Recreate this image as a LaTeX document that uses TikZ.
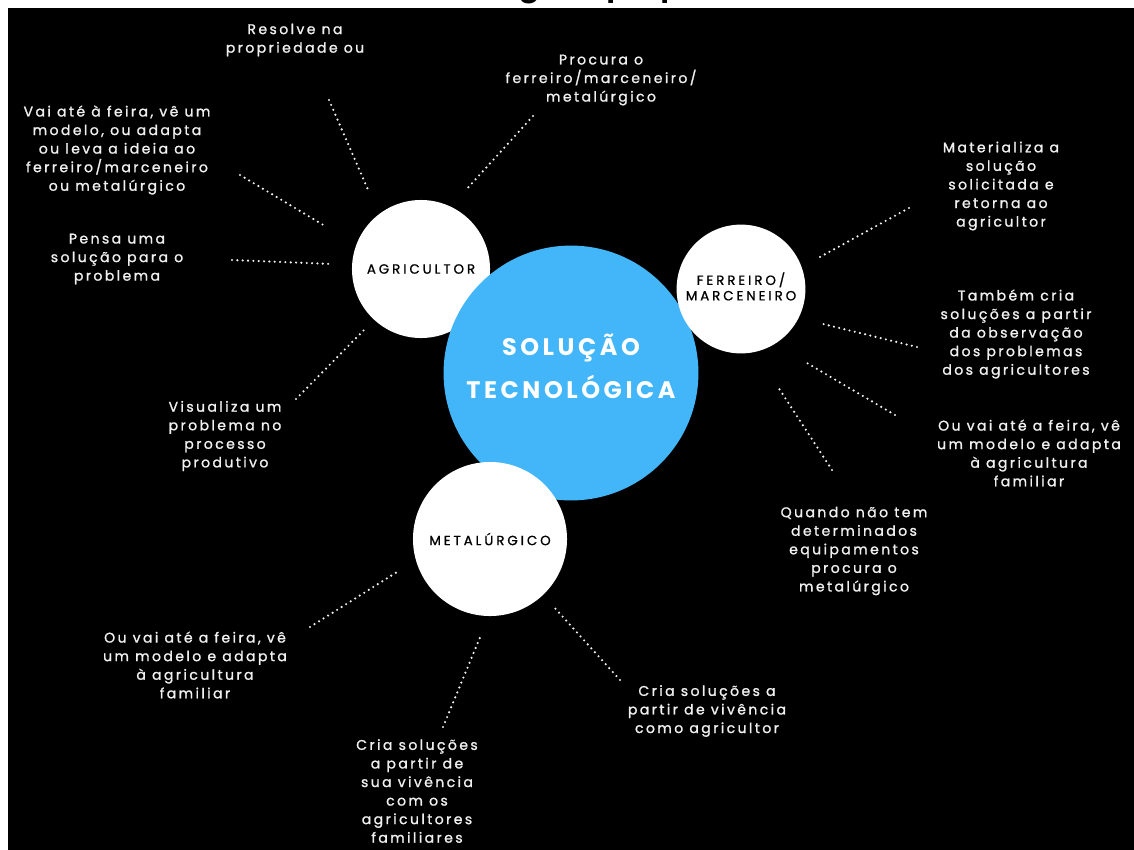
\documentclass[tikz,border=0pt]{standalone}
\usepackage{fontspec}
\usepackage{xcolor}
\usepackage{tikz}
\usetikzlibrary{positioning}
\setmainfont{Poppins}
\newfontfamily\notefont[LetterSpace=17,FakeBold=1.2]{Poppins}
\newfontfamily\actorfont[LetterSpace=22,FakeBold=1.0]{Poppins}
\newfontfamily\hubfont[LetterSpace=15]{Poppins}
\newfontfamily\titlefont{Carlito}
\definecolor{hubblue}{RGB}{66,182,248}
\definecolor{notewhite}{RGB}{240,240,240}

\begin{document}
\begin{tikzpicture}[x=0.025cm, y=-0.025cm,
    note/.style={align=center, text=notewhite, inner sep=0pt,
      font=\notefont\fontsize{10}{13.2}\selectfont},
    actor/.style={circle, fill=white, inner sep=0pt, align=center, text=black,
      font=\actorfont\fontsize{9.5}{13}\selectfont},
    link/.style={notewhite, line width=1.7pt, line cap=round, dash pattern=on 0pt off 3.8pt}]
    \useasboundingbox (0,0) rectangle (1134,850);

    % --- Title, cut off by the frame ---
    \node[anchor=base, font=\titlefont\bfseries\fontsize{27}{30}\selectfont] (title) at (570,-3) {tecnológicas próprias};
    \fill[black] (8,8) rectangle (1134,850);

    % --- Circles ---
    \node[actor, minimum size=3.45cm] (agr) at (421,269) {AGRICULTOR};
    \node[circle, fill=hubblue, minimum size=6.37cm, inner sep=0pt] (sol) at (571,373) {};
    \node[text=white, align=center, font=\hubfont\bfseries\fontsize{17}{30.5}\selectfont] (soltext) at (571,366) {SOLUÇÃO\\TECNOLÓGICA};
    \node[actor, minimum size=3.22cm] (fer) at (741,289) {\raisebox{3pt}{\begin{tabular}{@{}c@{}}FERREIRO/\\[-2pt]MARCENEIRO\end{tabular}}};
    \node[actor, minimum size=3.85cm] (met) at (490,539) {METALÚRGICO};

    % --- Agricultor notes ---
    \node[note] (res) at (295,40) {Resolve na\\propriedade ou};
    \node[note] (proc) at (601,80) {Procura o\\ferreiro/marceneiro/\\metalúrgico};
    \node[note] (vai) at (117,150) {Vai até à feira, vê um\\modelo, ou adapta\\ou leva a ideia ao\\ferreiro/marceneiro\\ou metalúrgico};
    \node[note] (pensa) at (117,259) {Pensa uma\\solução para o\\problema};
    \node[note] (visu) at (225,436) {Visualiza um\\problema no\\processo\\produtivo};

    % --- Metalurgico notes ---
    \node[note] (feiraL) at (195,665) {Ou vai até a feira, vê\\um modelo e adapta\\à agricultura\\familiar};
    \node[note] (criaA) at (417,791) {Cria soluções\\a partir de\\sua vivência\\com os\\agricultores\\familiares};
    \node[note] (criaB) at (707,711) {Cria soluções a\\partir de vivência\\como agricultor};

    % --- Ferreiro notes ---
    \node[note] (quando) at (854,551) {Quando não tem\\determinados\\equipamentos\\procura o\\metalúrgico};
    \node[note] (mater) at (1001,186) {Materializa a\\solução\\solicitada e\\retorna ao\\agricultor};
    \node[note] (tamb) at (1016,334) {Também cria\\soluções a partir\\da observação\\dos problemas\\dos agricultores};
    \node[note] (feiraR) at (1029,453) {Ou vai até a feira, vê\\um modelo e adapta\\à agricultura\\familiar};

    % --- Dotted links ---
    \coordinate (res-a) at (329,100);   \coordinate (res-b) at (369,192);
    \coordinate (proc-a) at (533,116);  \coordinate (proc-b) at (465,191);
    \coordinate (vai-a) at (240,175);   \coordinate (vai-b) at (325,226);
    \coordinate (pensa-a) at (232,260); \coordinate (pensa-b) at (332,264);
    \coordinate (visu-a) at (296,399);  \coordinate (visu-b) at (364,330);
    \draw[link] (res-a) -- (res-b);
    \draw[link] (proc-a) -- (proc-b);
    \draw[link] (vai-a) -- (vai-b);
    \draw[link] (pensa-a) -- (pensa-b);
    \draw[link] (visu-a) -- (visu-b);

    \coordinate (feiraL-a) at (310,627); \coordinate (feiraL-b) at (397,572);
    \coordinate (criaA-a) at (443,727);  \coordinate (criaA-b) at (481,635);
    \coordinate (criaB-a) at (620,680);  \coordinate (criaB-b) at (553,606);
    \draw[link] (feiraL-a) -- (feiraL-b);
    \draw[link] (criaA-a) -- (criaA-b);
    \draw[link] (criaB-a) -- (criaB-b);

    \coordinate (mater-a) at (909,208);  \coordinate (mater-b) at (820,257);
    \coordinate (tamb-a) at (917,347);   \coordinate (tamb-b) at (819,323);
    \coordinate (feiraR-a) at (895,415); \coordinate (feiraR-b) at (807,363);
    \coordinate (quando-a) at (832,470); \coordinate (quando-b) at (778,387);
    \draw[link] (mater-a) -- (mater-b);
    \draw[link] (tamb-a) -- (tamb-b);
    \draw[link] (feiraR-a) -- (feiraR-b);
    \draw[link] (quando-a) -- (quando-b);
\end{tikzpicture}
\end{document}
